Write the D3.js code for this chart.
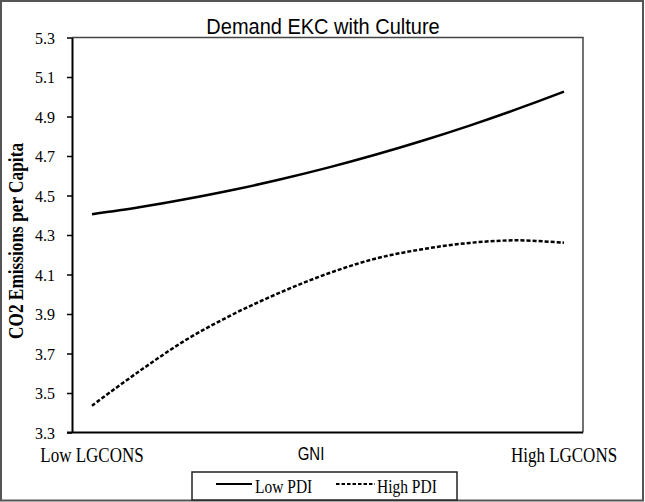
<!DOCTYPE html>
<html>
<head>
<meta charset="utf-8">
<style>
  body { margin: 0; background: #fff; }
  svg { display: block; }
</style>
<script src="https://d3js.org/d3.v7.min.js"></script>
</head>
<body>
<svg width="645" height="502"></svg>
<script>

// positions along the GNI axis, 0 = Low LGCONS, 1 = High LGCONS
const positions = [0, 0.1, 0.2, 0.3, 0.4, 0.5, 0.6, 0.7, 0.8, 0.9, 1];
const lowPDI  = [4.405, 4.44, 4.482, 4.529, 4.582, 4.641, 4.706, 4.777, 4.854, 4.937, 5.026];
const highPDI = [3.436, 3.61, 3.77, 3.90, 4.01, 4.105, 4.18, 4.228, 4.26, 4.273, 4.261];

const yTicks = [3.3, 3.5, 3.7, 3.9, 4.1, 4.3, 4.5, 4.7, 4.9, 5.1, 5.3];
const xLabels = ["Low LGCONS", "High LGCONS"];
const xTitle = "GNI";
const seriesNames = ["Low PDI", "High PDI"];

const width = 645, height = 502;
const plot = {left: 72, right: 583, top: 37.5, bottom: 432.5};

const svg = d3.select("svg");

// outer frame
svg.append("rect")
    .attr("x", 1).attr("y", 1)
    .attr("width", width - 3).attr("height", height - 2.5)
    .attr("fill", "none")
    .attr("stroke", "#555")
    .attr("stroke-width", 2);

const x = d3.scaleLinear()
    .domain([0, 1])
    .range([92, 564]);

const y = d3.scaleLinear()
    .domain([3.3, 5.3])
    .range([plot.bottom, plot.top]);

// top and right border of plot area
svg.append("path")
    .attr("d", `M${plot.left},${plot.top}H${plot.right}V${plot.bottom}`)
    .attr("fill", "none")
    .attr("stroke", "#444")
    .attr("stroke-width", 1.5);

// y axis
const yAxis = svg.append("g")
    .attr("transform", `translate(${plot.left},0)`)
    .call(d3.axisLeft(y).tickValues(yTicks).tickFormat(d3.format(".1f")).tickSize(5).tickPadding(12).tickSizeOuter(0));
yAxis.select(".domain").attr("stroke", "#000").attr("stroke-width", 2);
yAxis.selectAll(".tick line").attr("stroke", "#000").attr("stroke-width", 1.5);
yAxis.selectAll(".tick text")
    .attr("font-family", "'Liberation Serif', 'Times New Roman', serif")
    .attr("font-size", 16)
    .attr("fill", "#000")
    .attr("transform", "scale(1,1.08)");

// bottom axis line
svg.append("line")
    .attr("x1", plot.left - 5).attr("x2", plot.right)
    .attr("y1", plot.bottom).attr("y2", plot.bottom)
    .attr("stroke", "#000")
    .attr("stroke-width", 2);

// x labels
svg.append("g")
    .selectAll("text")
    .data(xLabels)
    .join("text")
    .attr("transform", (d, i) => `translate(${x(i)},462) scale(1,1.2)`)
    .attr("text-anchor", "middle")
    .attr("font-family", "'Liberation Serif', 'Times New Roman', serif")
    .attr("font-size", 17)
    .text(d => d);

svg.append("text")
    .attr("transform", `translate(${x(0.464)},460) scale(1,1.2)`)
    .attr("text-anchor", "middle")
    .attr("font-family", "'Liberation Sans', Arial, sans-serif")
    .attr("font-size", 15)
    .text(xTitle);

// title
svg.append("text")
    .attr("transform", "translate(323,34) scale(1,1.1)")
    .attr("text-anchor", "middle")
    .attr("font-family", "'Liberation Sans', Arial, sans-serif")
    .attr("font-size", 20)
    .text("Demand EKC with Culture");

// y title
svg.append("text")
    .attr("transform", "translate(23,241) rotate(-90) scale(1,1.15)")
    .attr("text-anchor", "middle")
    .attr("font-family", "'Liberation Serif', 'Times New Roman', serif")
    .attr("font-weight", "bold")
    .attr("font-size", 17.3)
    .text("CO2 Emissions per Capita");

// lines
const line = d3.line()
    .x((d, i) => x(positions[i]))
    .y(d => y(d))
    .curve(d3.curveCatmullRom);

svg.append("path")
    .datum(lowPDI)
    .attr("d", line)
    .attr("fill", "none")
    .attr("stroke", "#000")
    .attr("stroke-width", 2.5);

svg.append("path")
    .datum(highPDI)
    .attr("d", line)
    .attr("fill", "none")
    .attr("stroke", "#000")
    .attr("stroke-width", 2.5)
    .attr("stroke-dasharray", "4,2");

// legend
const legend = svg.append("g");
legend.append("rect")
    .attr("x", 192).attr("y", 472)
    .attr("width", 265).attr("height", 28)
    .attr("fill", "#fff")
    .attr("stroke", "#222")
    .attr("stroke-width", 1.5);

const items = legend.selectAll("g")
    .data(seriesNames)
    .join("g")
    .attr("transform", (d, i) => `translate(${i === 0 ? 216 : 336},0)`);

items.append("line")
    .attr("x1", 0).attr("x2", (d, i) => i === 0 ? 36 : 39)
    .attr("y1", 484).attr("y2", 484)
    .attr("stroke", "#000")
    .attr("stroke-width", 2)
    .attr("stroke-dasharray", (d, i) => i === 0 ? null : "3.5,2");

items.append("text")
    .attr("transform", (d, i) => `translate(${i === 0 ? 39 : 41},493) scale(1,1.2)`)
    .attr("font-family", "'Liberation Serif', 'Times New Roman', serif")
    .attr("font-size", 15.5)
    .text(d => d);

</script>
</body>
</html>
